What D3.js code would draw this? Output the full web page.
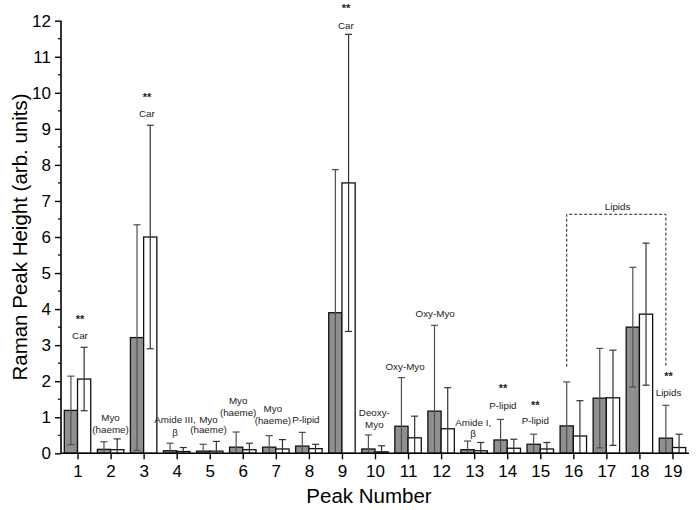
<!DOCTYPE html>
<html><head><meta charset="utf-8">
<script src="https://cdn.jsdelivr.net/npm/d3@7"></script>
<style>
html,body{margin:0;padding:0;background:#fff;}
svg{display:block;font-family:"Liberation Sans",Arial,Helvetica,sans-serif;}
</style></head>
<body>
<svg id="chart" width="696" height="510"></svg>
<script>
// ---- data ----
const peaks = [1,2,3,4,5,6,7,8,9,10,11,12,13,14,15,16,17,18,19];
const grayMean = [1.19,0.11,3.21,0.07,0.06,0.17,0.17,0.20,3.90,0.12,0.75,1.17,0.10,0.37,0.25,0.76,1.53,3.50,0.42];
const grayErr  = [0.95,0.21,3.13,0.21,0.19,0.42,0.32,0.38,3.97,0.39,1.35,2.38,0.24,0.57,0.28,1.22,1.38,1.66,0.91];
const whiteMean= [2.06,0.10,6.00,0.05,0.06,0.10,0.12,0.13,7.50,0.04,0.43,0.68,0.07,0.14,0.12,0.48,1.54,3.86,0.16];
const whiteErr = [0.88,0.30,3.10,0.11,0.27,0.18,0.26,0.12,4.12,0.17,0.60,1.14,0.23,0.25,0.18,0.98,1.32,1.97,0.37];
const yTicks = [0,1,2,3,4,5,6,7,8,9,10,11,12];
// annotations: peak position (x, in peak units), lines of text with y (data units)
const annotations = [
  {x:1.075, lines:[["**",3.62],["Car",3.18]]},
  {x:3.10,  lines:[["**",9.77],["Car",9.34]]},
  {x:9.12,  lines:[["**",12.24],["Car",11.78]]},
  {x:2.0,   lines:[["Myo",0.90],["(haeme)",0.56]]},
  {x:3.95,  lines:[["Amide III,",0.84],["β",0.48]]},
  {x:4.96,  lines:[["Myo",0.85],["(haeme)",0.55]]},
  {x:5.86,  lines:[["Myo",1.36],["(haeme)",1.04]]},
  {x:6.91,  lines:[["Myo",1.14],["(haeme)",0.81]]},
  {x:7.91,  lines:[["P-lipid",0.85]]},
  {x:9.98,  lines:[["Deoxy-",1.03],["Myo",0.71]]},
  {x:10.91, lines:[["Oxy-Myo",2.31]]},
  {x:11.82, lines:[["Oxy-Myo",3.79]]},
  {x:12.97, lines:[["Amide I,",0.75],["β",0.44]]},
  {x:13.87, lines:[["**",1.69],["P-lipid",1.23]]},
  {x:14.85, lines:[["**",1.24],["P-lipid",0.80]]},
  {x:18.88, lines:[["**",2.03],["Lipids",1.58]]},
  {x:17.34, lines:[["Lipids",6.76]]}
];
const bracket = {x0:15.8, x1:18.8, top:6.63, bottom:2.40};

// ---- layout ----
const svg = d3.select("#chart");
const x = d3.scaleLinear().domain([0.5,19.5]).range([61,689]);
const y = d3.scaleLinear().domain([0,12]).range([453.3,20.7]);
const bw = x(1.4)-x(1);

// bars
const g = svg.append("g");
g.selectAll("rect.gray").data(peaks).join("rect")
  .attr("x", (d)=>x(d)-bw).attr("width", bw)
  .attr("y", (d,i)=>y(grayMean[i])).attr("height",(d,i)=>y(0)-y(grayMean[i]))
  .attr("fill","#8f8f8f").attr("stroke","#111").attr("stroke-width",1.3);
g.selectAll("rect.white").data(peaks).join("rect")
  .attr("x", (d)=>x(d)).attr("width", bw)
  .attr("y", (d,i)=>y(whiteMean[i])).attr("height",(d,i)=>y(0)-y(whiteMean[i]))
  .attr("fill","#fff").attr("stroke","#111").attr("stroke-width",1.3);

// error bars
function errBars(means, errs, offset, color){
  const eg = svg.append("g").attr("stroke",color).attr("stroke-width",1.2).attr("fill","none");
  peaks.forEach((p,i)=>{
    const cx = x(p)+offset;
    const lo = Math.max(0, means[i]-errs[i]), hi = means[i]+errs[i];
    eg.append("line").attr("x1",cx).attr("x2",cx).attr("y1",y(lo)).attr("y2",y(hi));
    eg.append("line").attr("x1",cx-3.5).attr("x2",cx+3.5).attr("y1",y(hi)).attr("y2",y(hi));
    if (means[i]-errs[i] > 0.02)
      eg.append("line").attr("x1",cx-3.5).attr("x2",cx+3.5).attr("y1",y(lo)).attr("y2",y(lo));
  });
}
errBars(grayMean, grayErr, -bw/2, "#505050");
errBars(whiteMean, whiteErr, bw/2, "#333");

// axes
const yAxis = svg.append("g").attr("transform",`translate(${x(0.5)},0)`)
  .call(d3.axisLeft(y).tickValues(yTicks).tickFormat(d3.format("d")).tickSize(6).tickPadding(4));
yAxis.append("g").selectAll("line").data(d3.range(0.5,12,1)).join("line")
  .attr("x1",-3).attr("x2",0).attr("y1",d=>y(d)).attr("y2",d=>y(d)).attr("stroke","#000").attr("stroke-width",1.2);
const xAxis = svg.append("g").attr("transform",`translate(0,${y(0)})`)
  .call(d3.axisBottom(x).tickValues(peaks).tickFormat(d3.format("d")).tickSize(6).tickPadding(6));
[yAxis,xAxis].forEach(a=>{
  a.select(".domain").attr("stroke","#000").attr("stroke-width",1.6);
  a.selectAll(".tick line").attr("stroke","#000").attr("stroke-width",1.4);
  a.selectAll(".tick text").attr("font-size",17).attr("fill","#000")
   .attr("font-family","'Liberation Sans',Arial,sans-serif");
});
yAxis.select(".domain").attr("d",`M0,${y(12)}V${y(0)}`);
xAxis.select(".domain").attr("d",`M${x(0.5)},0H${x(19.5)}`);

// axis titles
svg.append("text").attr("x",369).attr("y",503).attr("text-anchor","middle")
  .attr("font-size",20.5).attr("fill","#000").text("Peak Number");
svg.append("text").attr("transform",`translate(27,${(y(0)+y(12))/2 + 0}) rotate(-90)`)
  .attr("text-anchor","middle").attr("font-size",20.5).attr("fill","#000")
  .text("Raman Peak Height (arb. units)");

// annotations
const ag = svg.append("g").attr("text-anchor","middle").attr("fill","#222");
annotations.forEach(a=>{
  a.lines.forEach(([t,v])=>{
    ag.append("text").attr("x",x(a.x)).attr("y",y(v))
      .attr("font-size", t==="**" ? 11 : 9.8)
      .attr("font-weight", t==="**" ? "bold" : "normal")
      .text(t);
  });
});

// lipids bracket
svg.append("path")
  .attr("d",`M${x(bracket.x0)},${y(bracket.bottom)}V${y(bracket.top)}H${x(bracket.x1)}V${y(bracket.bottom)}`)
  .attr("fill","none").attr("stroke","#222").attr("stroke-width",1).attr("stroke-dasharray","3,2");
</script>
</body></html>
